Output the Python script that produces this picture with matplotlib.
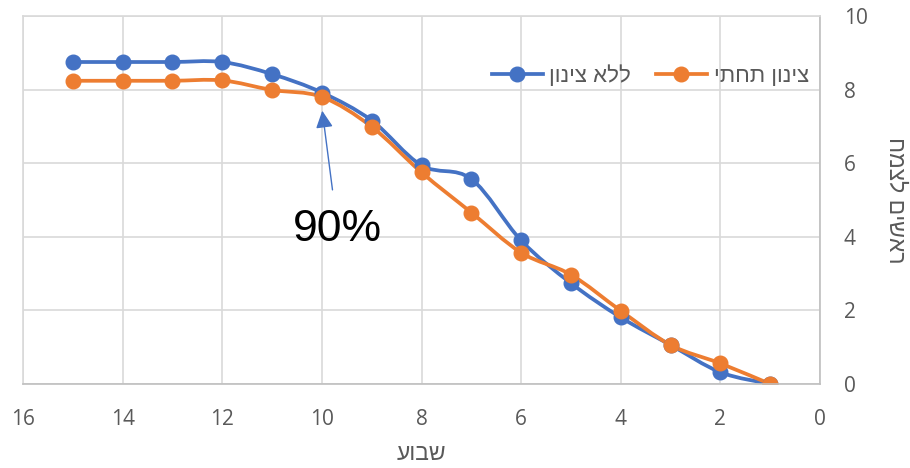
import numpy as np
import matplotlib.pyplot as plt
from matplotlib.path import Path
from matplotlib.patches import PathPatch
from matplotlib.lines import Line2D

weeks = [15, 14, 13, 12, 11, 10, 9, 8, 7, 6, 5, 4, 3, 2, 1]
no_cooling = [8.75, 8.75, 8.75, 8.75, 8.42, 7.92, 7.16, 5.94, 5.57, 3.90, 2.74, 1.81, 1.06, 0.32, 0.0]
under_cooling = [8.24, 8.24, 8.24, 8.25, 7.99, 7.80, 6.99, 5.75, 4.66, 3.57, 2.97, 1.99, 1.06, 0.56, 0.0]

label_no = "ללא צינון"
label_under = "צינון תחתי"
x_title = "שבוע"
y_title = "ראשים לצמח"

BLUE = "#4472C4"
ORANGE = "#ED7D31"
GRAY = "#595959"
HEB = ["Liberation Sans", "DejaVu Sans"]


def rtl(s):
    # no bidi in matplotlib: lay the glyphs out right-to-left by hand
    return s[::-1]


def smooth_path(x, y):
    # Catmull-Rom through the points, as cubic bezier segments
    p = np.column_stack([x, y]).astype(float)
    verts = [p[0]]
    codes = [Path.MOVETO]
    n = len(p)
    for i in range(n - 1):
        p0 = p[max(i - 1, 0)]
        p1 = p[i]
        p2 = p[i + 1]
        p3 = p[min(i + 2, n - 1)]
        c1 = p1 + (p2 - p0) / 6.0
        c2 = p2 - (p3 - p1) / 6.0
        verts += [c1, c2, p2]
        codes += [Path.CURVE4] * 3
    return Path(verts, codes)


fig = plt.figure(figsize=(9.1, 4.68), dpi=100)
ax = fig.add_axes([0.0253, 0.1795, 0.8758, 0.7863])

for vals, col in [(no_cooling, BLUE), (under_cooling, ORANGE)]:
    ax.add_patch(PathPatch(smooth_path(weeks, vals), facecolor="none",
                           edgecolor=col, lw=2.7, capstyle="round",
                           joinstyle="round"))
    ax.plot(weeks, vals, linestyle="none", marker="o", markersize=10.5,
            color=col)

ax.set_xlim(16, 0)
ax.set_ylim(0, 10)
ax.set_xticks(np.arange(16, -1, -2))
ax.set_yticks(np.arange(0, 11, 2))
ax.yaxis.tick_right()
ax.tick_params(axis="both", length=0, labelsize=15, colors=GRAY)
ax.tick_params(axis="x", pad=18)
ax.tick_params(axis="y", pad=17)
for lab in ax.get_xticklabels() + ax.get_yticklabels():
    lab.set_family("Open Sans")
ax.grid(True, color="#D9D9D9", lw=1.2)
ax.set_axisbelow(True)
for s in ax.spines.values():
    s.set_color("#D9D9D9")
    s.set_linewidth(1.2)
ax.spines["bottom"].set_color("#BFBFBF")
ax.spines["right"].set_color("#BFBFBF")

ax.set_xlabel(rtl(x_title), fontsize=16.5, color=GRAY, family=HEB,
              labelpad=9)
ax.yaxis.set_label_position("right")
ax.set_ylabel(rtl(y_title), fontsize=16.5, color=GRAY, family=HEB,
              rotation=-90, labelpad=29)

ax.annotate("", xy=(10.0, 7.5), xytext=(9.78, 5.2),
            arrowprops=dict(arrowstyle="-|>", color=BLUE, lw=1,
                            mutation_scale=26))
ax.text(9.68, 4.2, "90%", fontsize=32, ha="center", va="center",
        family="Liberation Sans", color="black")

handles = [
    Line2D([], [], color=BLUE, lw=2.7, marker="o", markersize=10.5),
    Line2D([], [], color=ORANGE, lw=2.7, marker="o", markersize=10.5),
]
leg = ax.legend(handles, [rtl(label_no), rtl(label_under)], ncol=2,
                loc="center right", bbox_to_anchor=(1.011, 0.837),
                frameon=False, handlelength=2.3, columnspacing=1.1,
                handletextpad=0.3, prop={"family": HEB, "size": 16})
for t in leg.get_texts():
    t.set_color(GRAY)

fig.savefig("out.png", dpi=100)
